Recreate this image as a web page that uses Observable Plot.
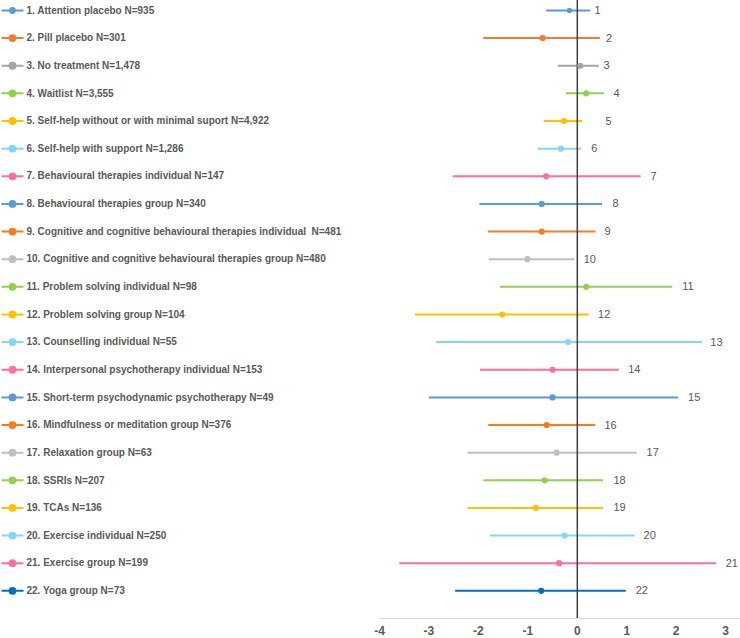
<!DOCTYPE html>
<html><head><meta charset="utf-8">
<script src="https://cdn.jsdelivr.net/npm/d3@7"></script>
<script src="https://cdn.jsdelivr.net/npm/@observablehq/plot@0.6"></script>
<style>html,body{margin:0;padding:0;background:#fff}</style>
</head><body><div id="chart"></div>
<script>
const labels = [
  "1. Attention placebo N=935",
  "2. Pill placebo N=301",
  "3. No treatment N=1,478",
  "4. Waitlist N=3,555",
  "5. Self-help without or with minimal suport N=4,922",
  "6. Self-help with support N=1,286",
  "7. Behavioural therapies individual N=147",
  "8. Behavioural therapies group N=340",
  "9. Cognitive and cognitive behavioural therapies individual  N=481",
  "10. Cognitive and cognitive behavioural therapies group N=480",
  "11. Problem solving individual N=98",
  "12. Problem solving group N=104",
  "13. Counselling individual N=55",
  "14. Interpersonal psychotherapy individual N=153",
  "15. Short-term psychodynamic psychotherapy N=49",
  "16. Mindfulness or meditation group N=376",
  "17. Relaxation group N=63",
  "18. SSRIs N=207",
  "19. TCAs N=136",
  "20. Exercise individual N=250",
  "21. Exercise group N=199",
  "22. Yoga group N=73"
];
const estimate = [-0.16, -0.70, 0.06, 0.18, -0.27, -0.33, -0.63, -0.72, -0.72, -1.01, 0.18, -1.52, -0.19, -0.50, -0.50, -0.62, -0.42, -0.66, -0.84, -0.26, -0.37, -0.73];
const lower    = [-0.62, -1.89, -0.38, -0.22, -0.67, -0.79, -2.51, -1.97, -1.80, -1.78, -1.55, -3.27, -2.85, -1.96, -2.99, -1.79, -2.21, -1.89, -2.21, -1.76, -3.59, -2.46];
const upper    = [0.27, 0.47, 0.45, 0.55, 0.105, 0.085, 1.29, 0.51, 0.38, -0.05, 1.93, 0.24, 2.53, 0.85, 2.05, 0.37, 1.21, 0.53, 0.53, 1.17, 2.82, 0.99];
const labelAt  = [0.35, 0.58, 0.53, 0.73, 0.57, 0.28, 1.48, 0.71, 0.55, 0.13, 2.12, 0.42, 2.69, 1.03, 2.24, 0.55, 1.40, 0.73, 0.73, 1.34, 3.00, 1.18];
const xTicks = [-4, -3, -2, -1, 0, 1, 2, 3];

const palette = [
  "#5b9bd5", "#ed7d31", "#a5a5a5", "#92d050", "#ffc000", "#83d6f9",
  "#ff6f9c", "#5b9bd5", "#fb7a1f", "#bfbfbf", "#92d050", "#ffc000",
  "#83d6f9", "#ff6f9c", "#5b9bd5", "#fb7a1f", "#bfbfbf", "#92d050",
  "#ffc000", "#83d6f9", "#ff6f9c", "#0070c0"
];

const rows = labels.map((l, i) => ({
  row: i + 1, label: l, est: estimate[i], lo: lower[i], hi: upper[i],
  at: labelAt[i], color: palette[i]
}));

const legendSymbol = {
  draw(ctx, size) {
    const r = Math.sqrt(size / Math.PI);
    ctx.moveTo(-11, 0); ctx.lineTo(11, 0);
    ctx.moveTo(r, 0); ctx.arc(0, 0, r, 0, 2 * Math.PI);
  }
};

const chart = Plot.plot({
  width: 740,
  height: 638,
  marginLeft: 379,
  marginRight: 0,
  marginTop: 0,
  marginBottom: 20,
  style: {fontFamily: "'Liberation Sans', Arial, sans-serif", background: "#fff", overflow: "visible"},
  x: {domain: [-4, 3.3], axis: null},
  y: {domain: [0.64, 23], reverse: true, axis: null},
  color: {type: "identity"},
  marks: [
    Plot.ruleY([23], {stroke: "#d9d9d9", strokeWidth: 1}),
    Plot.axisX({ticks: xTicks, tickSize: 0, tickPadding: 8, tickFormat: d => String(d),
      fontSize: 12, fontWeight: "bold", fill: "#595959"}),
    Plot.ruleY(rows, {y: "row", x1: "lo", x2: "hi", stroke: "color", strokeWidth: 2}),
    Plot.ruleX([0], {stroke: "#404040", strokeWidth: 1.5}),
    Plot.dot(rows, {x: "est", y: "row", fill: "color", r: d => d.row === 1 ? 3 : 4, stroke: "none"}),
    Plot.text(rows, {x: "at", y: "row", text: d => String(d.row), textAnchor: "start",
      fontSize: 11, fill: "#595959"}),
    Plot.dot(rows, {y: "row", frameAnchor: "left", dx: -367, symbol: legendSymbol,
      r: d => d.row === 1 ? 2.5 : 3.5, fill: "color", stroke: "color", strokeWidth: 2}),
    Plot.text(rows, {y: "row", frameAnchor: "left", dx: -353, text: "label", textAnchor: "start",
      fontSize: 10, fontWeight: "bold", fill: "#595959"})
  ]
});
document.getElementById("chart").appendChild(chart);
</script>
</body></html>
